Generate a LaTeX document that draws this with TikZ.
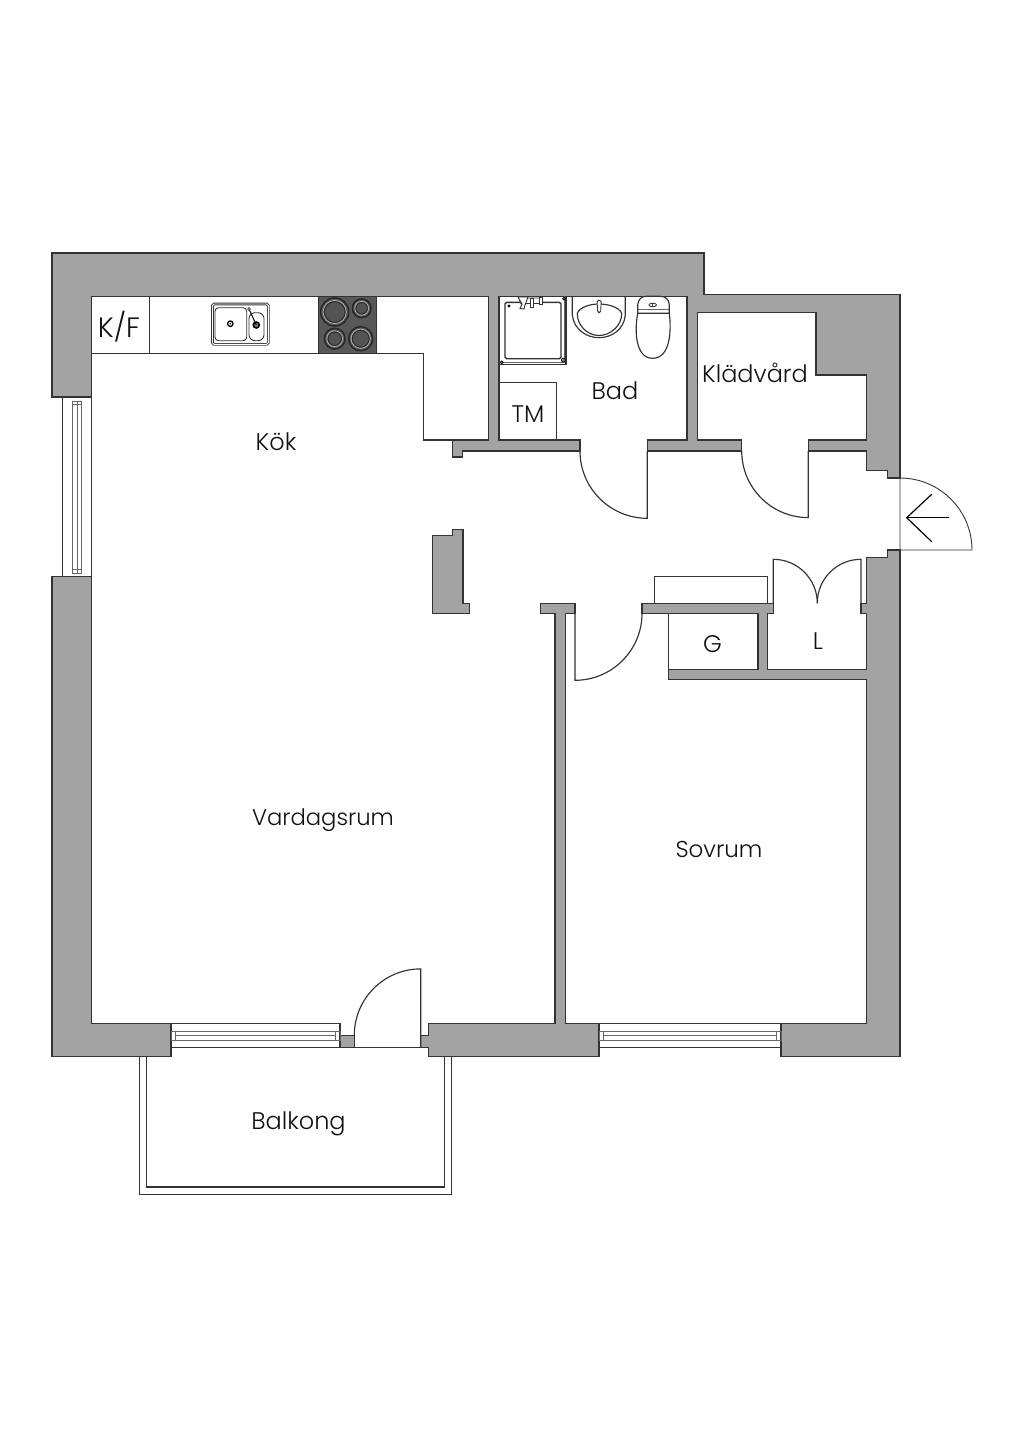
\documentclass[tikz,border=0pt]{standalone}
\usepackage{fontspec}
\setmainfont{Poppins}[UprightFont=* Light]
\definecolor{wallgray}{HTML}{A3A3A3}
\definecolor{ink}{HTML}{333333}
\definecolor{hobgray}{HTML}{585858}
\definecolor{txt}{HTML}{111111}
\tikzset{
  wall/.style={fill=wallgray,draw=ink,line width=1.2pt,line join=miter},
  thin line/.style={draw=ink,line width=1.15pt},
  frame line/.style={draw=ink!75,line width=0.9pt},
  fixture/.style={draw=ink,line width=0.9pt,fill=white},
  roomlabel/.style={font=\fontsize{24}{28}\selectfont,text=txt,inner sep=0pt,anchor=center},
  burner/.style={draw=black!85,line width=1.5pt,fill=gray!75!black},
}
\begin{document}
\begin{tikzpicture}[x=1pt,y=-1pt]
\useasboundingbox (0,0) rectangle (1024,1448);
\fill[white] (0,0) rectangle (1024,1448);

% walls
\path[wall] (52,397) -- (52,253) -- (704,253) -- (704,294.5) -- (900,294.5) -- (900,478) -- (887.3,478) -- (887.3,470.7) -- (866.7,470.7) -- (866.7,451) -- (808.3,451) -- (808.3,440) -- (866.7,440) -- (866.7,375) -- (816,375) -- (816,312.3) -- (697.3,312.3) -- (697.3,440) -- (741.7,440) -- (741.7,451) -- (647.3,451) -- (647.3,440) -- (687,440) -- (687,296.3) -- (499,296.3) -- (499,440) -- (580,440) -- (580,451) -- (462.7,451) -- (462.7,457) -- (452.3,457) -- (452.3,440) -- (488.3,440) -- (488.3,296.3) -- (91.7,296.3) -- (91.7,397) -- cycle;
\path[wall] (52,576.5) -- (52,1056.7) -- (171,1056.7) -- (171,1023.3) -- (91.7,1023.3) -- (91.7,576.5) -- cycle;
\path[wall] (420.7,1035.3) -- (428.3,1035.3) -- (428.3,1023.3) -- (555,1023.3) -- (555,613.3) -- (540.3,613.3) -- (540.3,603.3) -- (575,603.3) -- (575,613.3) -- (565.7,613.3) -- (565.7,1023.3) -- (599,1023.3) -- (599,1056.7) -- (428.3,1056.7) -- (428.3,1047.7) -- (420.7,1047.7) -- cycle;
\path[wall] (900,550) -- (887.5,550) -- (887.5,557.7) -- (866.7,557.7) -- (866.7,603.3) -- (861,603.3) -- (861,613.3) -- (866.7,613.3) -- (866.7,669.3) -- (767.3,669.3) -- (767.3,613.3) -- (773.3,613.3) -- (773.3,603.3) -- (642,603.3) -- (642,613.3) -- (758,613.3) -- (758,669.3) -- (668.3,669.3) -- (668.3,679.3) -- (866.7,679.3) -- (866.7,1023.3) -- (781,1023.3) -- (781,1056.7) -- (900,1056.7) -- cycle;
\path[wall] (432.7,535.3) -- (452.3,535.3) -- (452.3,529.3) -- (463,529.3) -- (463,603.3) -- (469.3,603.3) -- (469.3,613.3) -- (432.7,613.3) -- cycle;
\path[wall] (340,1035.3) rectangle (354.3,1047.7);

% kitchen counter
\path[thin line] (149.3,296.3) -- (149.3,353.7);
\path[thin line] (91.7,353.7) -- (423.3,353.7) -- (423.3,440) -- (452.3,440);
% hob
\path[fill=hobgray,draw=ink,line width=1pt] (318,296.3) rectangle (376,353.7);
\foreach \cx/\cy/\r in {334.7/312/14,361.7/308.3/9.3,334.7/338.7/10.3,360.7/338.7/12}{
  \path[burner] (\cx,\cy) circle (\r);
  \path[draw=gray!55,line width=0.6pt] (\cx,\cy) circle (\r-2.4);
  \path[fill=gray!65!black,draw=black!85,line width=0.8pt] (\cx,\cy) circle (\r-3.6);
}
% sink
\path[draw=ink,line width=2.6pt,rounded corners=1.5pt] (212.5,304) rectangle (268.3,344.3);
\path[draw=white,line width=0.9pt,rounded corners=1.5pt] (212.5,304) rectangle (268.3,344.3);
\path[fixture,rounded corners=3.5pt] (215,307.7) rectangle (246.7,340.7);
\path[fixture,rounded corners=6pt] (249,312.7) rectangle (264,340.7);
\path[draw=black,line width=1.3pt,fill=white] (230.3,323.7) circle (2.7);
\path[fill=black] (230.3,323.7) circle (0.8);
\path[draw=black,line width=1.6pt,fill=gray] (256.3,325) circle (3);
\path[draw=black,line width=1pt] (249,309) -- (256.3,325);
\path[draw=ink,line width=0.7pt,fill=white] (249,309) circle (1.4);

% left window
\path[thin line] (62.7,397) -- (62.7,576.5);
\path[thin line] (91.7,397) -- (91.7,576.5);
\path[frame line] (72.7,401) rectangle (81.7,573);
\path[frame line] (77.5,401) -- (77.5,573);
\path[frame line] (72.7,404.5) -- (81.7,404.5);
\path[frame line] (72.7,569.5) -- (81.7,569.5);

% bottom windows
\path[thin line] (171,1023.3) -- (340,1023.3) -- (340,1035.3);
\path[thin line] (171,1047.7) -- (420.7,1047.7);
\path[frame line] (171,1031.3) rectangle (340,1040);
\path[frame line] (175,1031.3) -- (175,1040);
\path[frame line] (335,1031.3) -- (335,1040);
\path[frame line] (175,1035.5) -- (335,1035.5);
\path[thin line] (599,1023.3) -- (781,1023.3);
\path[thin line] (599,1047.7) -- (781,1047.7);
\path[frame line] (599,1031.3) rectangle (781,1040);
\path[frame line] (603.3,1031.3) -- (603.3,1040);
\path[frame line] (776.7,1031.3) -- (776.7,1040);
\path[frame line] (603.3,1035.5) -- (776.7,1035.5);

% balcony
\path[thin line] (139.3,1056.7) -- (139.3,1194.3) -- (451.7,1194.3) -- (451.7,1056.7);
\path[thin line] (146.7,1056.7) -- (146.7,1187) -- (444.7,1187) -- (444.7,1056.7);

% doors (angles: y axis points down the page)
\path[thin line] (354.3,1035.3) arc[start angle=180,end angle=270,radius=66.4] -- (420.7,1047.7);
\path[thin line] (580,451) arc[start angle=180,end angle=90,radius=67.3] -- (647.3,451);
\path[thin line] (741.7,451) arc[start angle=180,end angle=90,radius=66.6] -- (808.3,451);
\path[thin line] (642,613.3) arc[start angle=0,end angle=90,radius=67] -- (575,613.3);
\path[thin line] (773.3,603.3) -- (773.3,559.3) arc[start angle=-90,end angle=0,radius=44];
\path[thin line] (861,603.3) -- (861,559.3) arc[start angle=270,end angle=180,radius=43.7];
\path[draw=ink,line width=0.9pt] (900,478) -- (900,550) -- (972,550) arc[start angle=0,end angle=-90,radius=72];
% entrance arrow
\path[draw=black,line width=1.2pt] (949.3,517.7) -- (906.7,517.7);
\path[draw=black,line width=1.2pt] (931.7,494.3) -- (906.7,517.7) -- (931.7,541.7);

% closets
\path[thin line] (668.3,613.3) -- (668.3,669.3);
\path[thin line] (654.3,603.3) -- (654.3,576.7) -- (767.3,576.7) -- (767.3,603.3);
\path[thin line] (499,382.3) -- (556.7,382.3) -- (556.7,440);

% shower
\path[thin line] (566,296.3) -- (566,364.3) -- (499,364.3);
\path[frame line] (564,296.3) -- (564,362) -- (499,362);
\path[draw=ink,line width=1.4pt,rounded corners=1.5pt] (505,302.3) rectangle (561,358.7);
\path[draw=black,line width=0.7pt,fill=gray] (509,306) circle (1.2) (564,298.7) circle (1.4) (501.7,362.3) circle (1.5) (563.3,360) circle (2);
\path[fixture,rounded corners=1pt] (520,298) rectangle (542,303.5);
\path[fixture] (518,297) -- (528,297) -- (525,305) -- (524,309) -- (520,308.5) -- (522,304) -- cycle;
\path[fixture] (530,298) rectangle (533,307);
\path[fixture] (539,297.5) rectangle (542.5,304.5);

% washbasin
\path[thin line] (572.3,296.3) -- (572.3,315) .. controls (574,330) and (587,337.7) .. (599,337.7) .. controls (611,337.7) and (624,330) .. (625.3,315) -- (625.3,296.3);
\path[thin line] (577.3,313.3) .. controls (580,307) and (590,304) .. (599,304) .. controls (608,304) and (619,307) .. (621.7,313.3) .. controls (622,325) and (611,335.5) .. (599,335.5) .. controls (587,335.5) and (577,325) .. (577.3,313.3) -- cycle;
\path[fixture,rounded corners=1.5pt] (597,300.3) -- (601.3,300.3) -- (600.6,312.7) -- (597.7,312.7) -- cycle;

% toilet
\path[thin line] (637.7,313.3) -- (637.7,305) .. controls (638,299) and (642,296.3) .. (646,296.3) -- (660,296.3) .. controls (665,296.3) and (669,299) .. (669.3,305) -- (669.3,313.3) -- cycle;
\path[frame line] (637.7,309.5) -- (669.3,309.5);
\path[thin line] (637.7,313.3) .. controls (634.5,330) and (635,358.3) .. (652.7,358.3) .. controls (670.5,358.3) and (671.5,330) .. (669.3,313.3);
\path[draw=ink,line width=0.8pt] (652.7,305) ellipse (3.8 and 1.8);
\path[draw=ink,line width=0.8pt] (652.7,303.2) -- (652.7,306.8);

% labels
\node[roomlabel,font=\fontsize{28}{32}\selectfont] (kf) at (119,327) {K/F};
\node[roomlabel] (kok) at (276,442) {Kök};
\node[roomlabel] (bad) at (615,390.5) {Bad};
\node[roomlabel] (tm) at (528,414) {TM};
\node[roomlabel] (klad) at (755,373) {Klädvård};
\node[roomlabel] (gk) at (712.5,644) {G};
\node[roomlabel] (lk) at (818,641) {L};
\node[roomlabel,font=\fontsize{22.7}{27}\selectfont] (vard) at (323,820) {Vardagsrum};
\node[roomlabel,font=\fontsize{23}{27}\selectfont] (sov) at (719,849) {Sovrum};
\node[roomlabel] (balk) at (298.5,1123.5) {Balkong};
\end{tikzpicture}
\end{document}
